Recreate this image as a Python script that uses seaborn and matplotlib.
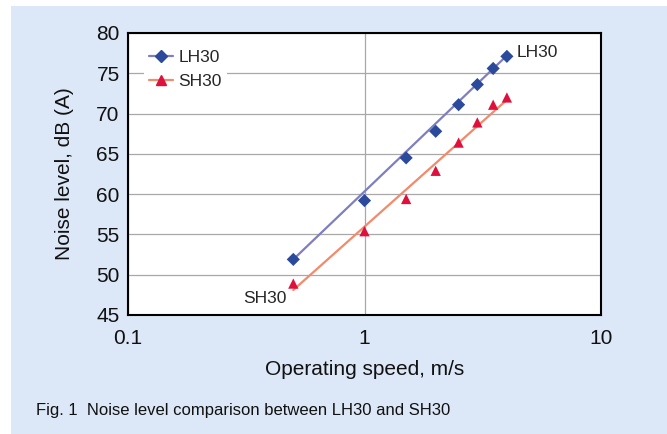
import matplotlib
matplotlib.use("Agg")
import matplotlib.pyplot as plt
from matplotlib.lines import Line2D
from matplotlib.patches import Rectangle
import pandas as pd
import seaborn as sns

# measured points
speed = [0.5, 1.0, 1.5, 2.0, 2.5, 3.0, 3.5, 4.0]
lh30 = [51.9, 59.2, 64.5, 67.8, 71.1, 73.6, 75.6, 77.1]
sh30 = [48.9, 55.4, 59.4, 62.9, 66.4, 68.9, 71.1, 72.0]

# fitted trend lines (end points)
fit_speed = [0.5, 4.0]
lh30_fit = [51.9, 77.2]
sh30_fit = [48.1, 71.7]

y_ticks = [45, 50, 55, 60, 65, 70, 75, 80]
x_ticks = [0.1, 1, 10]
x_tick_labels = ["0.1", "1", "10"]

sns.set_theme(style="white")
plt.rcParams['font.family'] = ['Liberation Sans', 'DejaVu Sans']

lh_line, lh_mark = "#7f7fbf", "#2b4a9c"
sh_line, sh_mark = "#f28a6c", "#e0103c"
panel = "#dce8f7"

fig = plt.figure(figsize=(6.67, 4.34), dpi=100, facecolor="white")
fig.patches.append(Rectangle((11 / 667, 0), 1, 1 - 6 / 434, transform=fig.transFigure,
                             facecolor=panel, edgecolor="none", zorder=-10))
ax = fig.add_axes([128 / 667, 1 - 315 / 434, 473 / 667, 282 / 434])
ax.set_facecolor("white")

pts = pd.DataFrame({"speed": speed * 2, "noise": lh30 + sh30,
                    "model": ["LH30"] * len(speed) + ["SH30"] * len(speed)})
fits = pd.DataFrame({"speed": fit_speed * 2, "noise": lh30_fit + sh30_fit,
                     "model": ["LH30"] * 2 + ["SH30"] * 2})

sns.lineplot(data=fits, x="speed", y="noise", hue="model",
             palette={"LH30": lh_line, "SH30": sh_line}, linewidth=1.6,
             legend=False, ax=ax, zorder=3)
sns.scatterplot(data=pts[pts.model == "LH30"], x="speed", y="noise", marker="D",
                color=lh_mark, s=45, edgecolor="none", legend=False, ax=ax, zorder=4)
sns.scatterplot(data=pts[pts.model == "SH30"], x="speed", y="noise", marker="^",
                color=sh_mark, s=55, edgecolor="none", legend=False, ax=ax, zorder=4)

ax.set_xscale("log")
ax.set_xlim(0.1, 10)
ax.set_ylim(45, 80)
ax.set_xticks(x_ticks)
ax.set_xticklabels(x_tick_labels)
ax.set_yticks(y_ticks)
ax.minorticks_off()
ax.tick_params(axis="both", labelsize=15, length=0, colors="#111111")
ax.tick_params(axis="x", pad=10)
ax.tick_params(axis="y", pad=6)
ax.grid(True, color="#a8a8a8", linewidth=0.9)
ax.set_axisbelow(True)
for sp in ax.spines.values():
    sp.set_color("black")
    sp.set_linewidth(1.5)

ax.set_xlabel("Operating speed, m/s", fontsize=15, labelpad=9, color="#111111")
ax.set_ylabel("Noise level, dB (A)", fontsize=15, labelpad=16, color="#111111")

ax.annotate("LH30", (fit_speed[1], lh30[-1]), xytext=(7, 3), textcoords="offset points",
            fontsize=12.5, va="center", ha="left")
ax.annotate("SH30", (fit_speed[0], sh30_fit[0]), xytext=(-5, -6), textcoords="offset points",
            fontsize=12.5, va="center", ha="right")

handles = [Line2D([0], [0], color=lh_line, lw=1.6, marker="D", markersize=6,
                  markerfacecolor=lh_mark, markeredgecolor=lh_mark),
           Line2D([0], [0], color=sh_line, lw=1.6, marker="^", markersize=7,
                  markerfacecolor=sh_mark, markeredgecolor=sh_mark)]
leg = ax.legend(handles, ["LH30", "SH30"], loc="upper left", bbox_to_anchor=(0.015, 0.99),
                fontsize=12.5, frameon=True, facecolor="white", edgecolor="none",
                framealpha=1, fancybox=False, handlelength=1.4, handletextpad=0.3,
                labelspacing=0.5, borderpad=0.3)

fig.text(36 / 667, 1 - 411 / 434, "Fig. 1  Noise level comparison between LH30 and SH30",
         fontsize=12, va="center", ha="left", color="#111111")

fig.savefig("out.png", dpi=100)
